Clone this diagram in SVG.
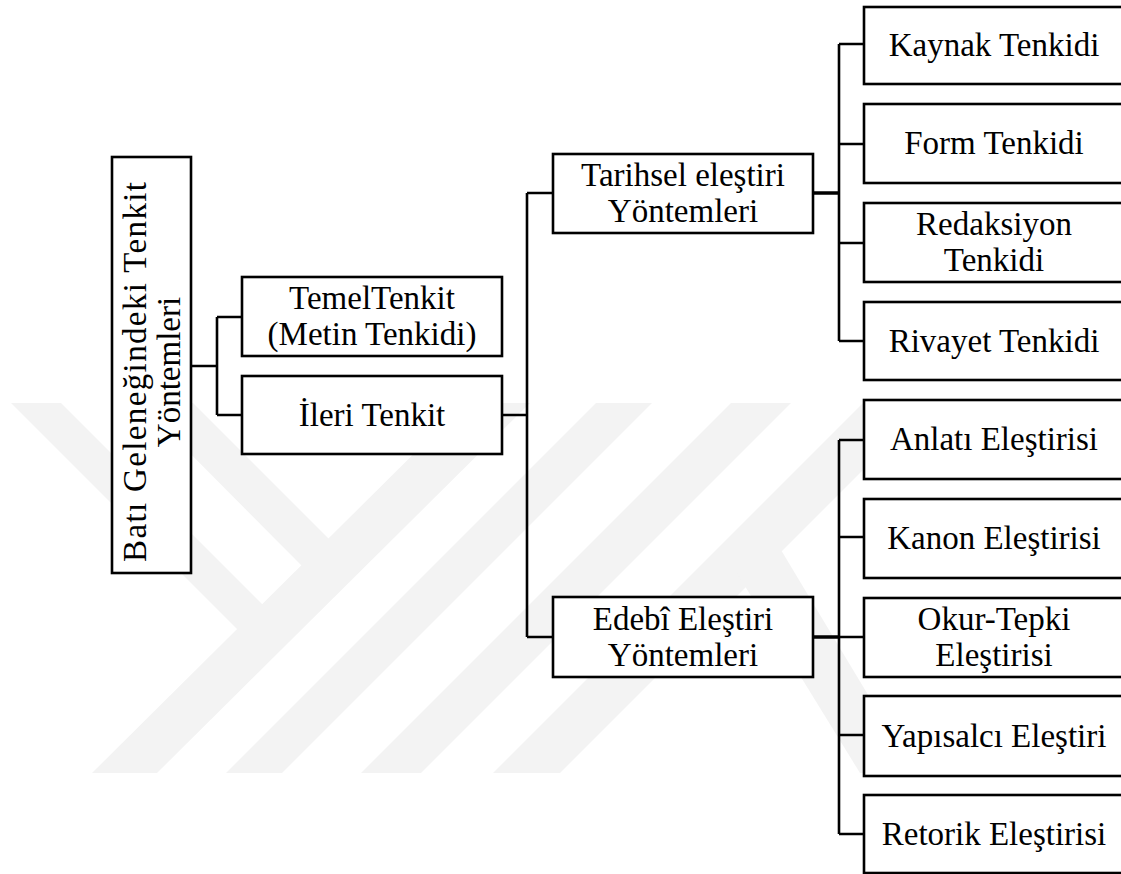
<svg xmlns="http://www.w3.org/2000/svg" width="1121" height="874" viewBox="0 0 1121 874">
<style>
.box{fill:#fff;stroke:#000;stroke-width:2.6}
.c{fill:none;stroke:#000;stroke-width:2.6}
.c2{fill:none;stroke:#000;stroke-width:3.4}
.wm{fill:#f3f3f3}
.t{font-family:'Liberation Serif','Times New Roman',serif;font-size:33px;fill:#000;text-anchor:middle}
</style>
<rect width="1121" height="874" fill="#fff"/>
<g id="watermark" class="wm">
<polygon points="11,403 61,403 263,605 238,630"/>
<polygon points="140,403 193,403 329,539 302,566"/>
<polygon points="465,403 530,403 157,773 92,773"/>
<polygon points="596,403 652,403 282,773 226,773"/>
<polygon points="731,403 791,403 421,773 361,773"/>
<polygon points="863,403 930,403 560,773 493,773"/>
<polygon points="735,570 775,540 915,773 860,773"/>
</g>
<g id="connectors">
<path class="c" d="M191,366 H217 M217,317 V415 M217,317 H242 M217,415 H242"/>
<path class="c" d="M502,415 H527 M527,193 V637 M527,193 H553 M527,637 H553"/>
<path class="c2" d="M813,193 H839 M813,637 H839"/>
<path class="c" d="M839,44 V341 M839,44 H864 M839,144 H864 M839,243 H864 M839,341 H864"/>
<path class="c" d="M839,440 V834 M839,440 H864 M839,537 H864 M839,637 H864 M839,735 H864 M839,834 H864"/>
</g>
<g id="root">
<rect class="box" x="112" y="157" width="79" height="416"/>
<text class="t" transform="translate(146,372) rotate(-90)" textLength="380" lengthAdjust="spacing">Batı Geleneğindeki Tenkit</text>
<text class="t" transform="translate(180,372) rotate(-90)">Yöntemleri</text>
</g>
<g id="temel">
<rect class="box" x="242" y="277" width="260" height="79"/>
<text class="t" x="372" y="309">TemelTenkit</text>
<text class="t" x="372" y="345">(Metin Tenkidi)</text>
</g>
<g id="ileri">
<rect class="box" x="242" y="376" width="260" height="78"/>
<text class="t" x="372" y="425.5">İleri Tenkit</text>
</g>
<g id="tarihsel">
<rect class="box" x="553" y="154" width="260" height="79"/>
<text class="t" x="683" y="186">Tarihsel eleştiri</text>
<text class="t" x="683" y="222">Yöntemleri</text>
</g>
<g id="edebi">
<rect class="box" x="553" y="597" width="260" height="80"/>
<text class="t" x="683" y="629.5">Edebî Eleştiri</text>
<text class="t" x="683" y="665.5">Yöntemleri</text>
</g>
<g id="kaynak">
<rect class="box" x="864" y="7" width="260" height="77"/>
<text class="t" x="994" y="56">Kaynak Tenkidi</text>
</g>
<g id="form">
<rect class="box" x="864" y="104" width="260" height="79"/>
<text class="t" x="994" y="154">Form Tenkidi</text>
</g>
<g id="redaksiyon">
<rect class="box" x="864" y="203" width="260" height="79"/>
<text class="t" x="994" y="235">Redaksiyon</text>
<text class="t" x="994" y="271">Tenkidi</text>
</g>
<g id="rivayet">
<rect class="box" x="864" y="302" width="260" height="78"/>
<text class="t" x="994" y="351.5">Rivayet Tenkidi</text>
</g>
<g id="anlati">
<rect class="box" x="864" y="400" width="260" height="79"/>
<text class="t" x="994" y="450">Anlatı Eleştirisi</text>
</g>
<g id="kanon">
<rect class="box" x="864" y="499" width="260" height="79"/>
<text class="t" x="994" y="549">Kanon Eleştirisi</text>
</g>
<g id="okur">
<rect class="box" x="864" y="598" width="260" height="79"/>
<text class="t" x="994" y="630">Okur-Tepki</text>
<text class="t" x="994" y="666">Eleştirisi</text>
</g>
<g id="yapisalci">
<rect class="box" x="864" y="696" width="260" height="80"/>
<text class="t" x="994" y="746.5">Yapısalcı Eleştiri</text>
</g>
<g id="retorik">
<rect class="box" x="864" y="795" width="260" height="78"/>
<text class="t" x="994" y="844.5">Retorik Eleştirisi</text>
</g>
</svg>
